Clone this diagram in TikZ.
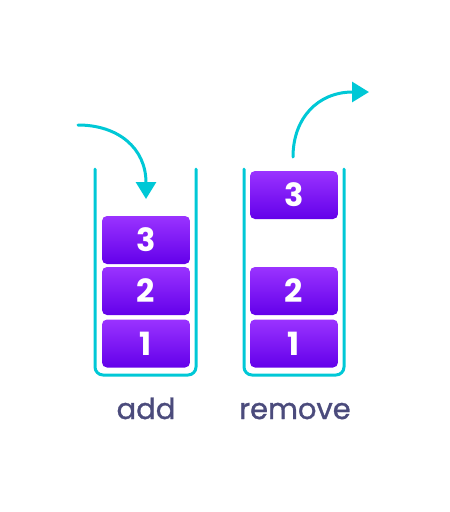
\documentclass[tikz,border=0pt]{standalone}
\usepackage{fontspec}
\setmainfont{Poppins}
\newfontfamily\labelfont[FakeBold=1.2]{Poppins}
\usetikzlibrary{arrows.meta}

\definecolor{stackcyan}{HTML}{00C8D6}
\definecolor{blocktop}{HTML}{9A33FF}
\definecolor{blockbottom}{HTML}{6300EA}
\definecolor{labelgray}{HTML}{4B4B7C}

\begin{document}
\begin{tikzpicture}[
  x=1pt, y=-1pt,
  line cap=round,
  line join=round,
  every node/.style={font=\fontsize{29}{30}\selectfont},
  stackwall/.style={draw=stackcyan, line width=3pt, rounded corners=8pt},
  blockbox/.style={rectangle, rounded corners=5pt, minimum width=88pt,
    minimum height=48pt, inner sep=0pt, top color=blocktop,
    bottom color=blockbottom, text=white,
    font=\fontsize{32}{32}\selectfont\bfseries},
  moveline/.style={draw=stackcyan, line width=3pt,
    -{Triangle[width=20pt,length=17pt]}},
  stacklabel/.style={text=labelgray, anchor=base,
    font=\labelfont\fontsize{29}{30}\selectfont}
]

% Canvas: 450 x 512
\useasboundingbox (0,0) rectangle (450,512);

% --- Left stack (add) ---
\draw[stackwall] (95,169) -- (95,375) -- (196,375) -- (196,169);

\node[blockbox] (addone)   at (146,343.5) {1};
\node[blockbox] (addtwo)   at (146,291)   {2};
\node[blockbox] (addthree) at (146,240)   {3};

% incoming arrow
\coordinate (addstart) at (78,125);
\coordinate (addtip)   at (146,199);
\draw[moveline] (addstart) .. controls (118,125) and (146,148) .. (addtip);

\node[stacklabel] (addlabel) at (146,419) {add};

% --- Right stack (remove) ---
\draw[stackwall] (244,169) -- (244,375) -- (344,375) -- (344,169);

\node[blockbox] (remone)   at (294,343.5) {1};
\node[blockbox] (remtwo)   at (294,291)   {2};
\node[blockbox] (remthree) at (294,195)   {3};

% outgoing arrow
\coordinate (remstart) at (293,157);
\coordinate (remtip)   at (369,92);
\draw[moveline] (remstart) .. controls (293,118) and (318,92) .. (remtip);

\node[stacklabel] (remlabel) at (295,419) {remove};

\end{tikzpicture}
\end{document}
